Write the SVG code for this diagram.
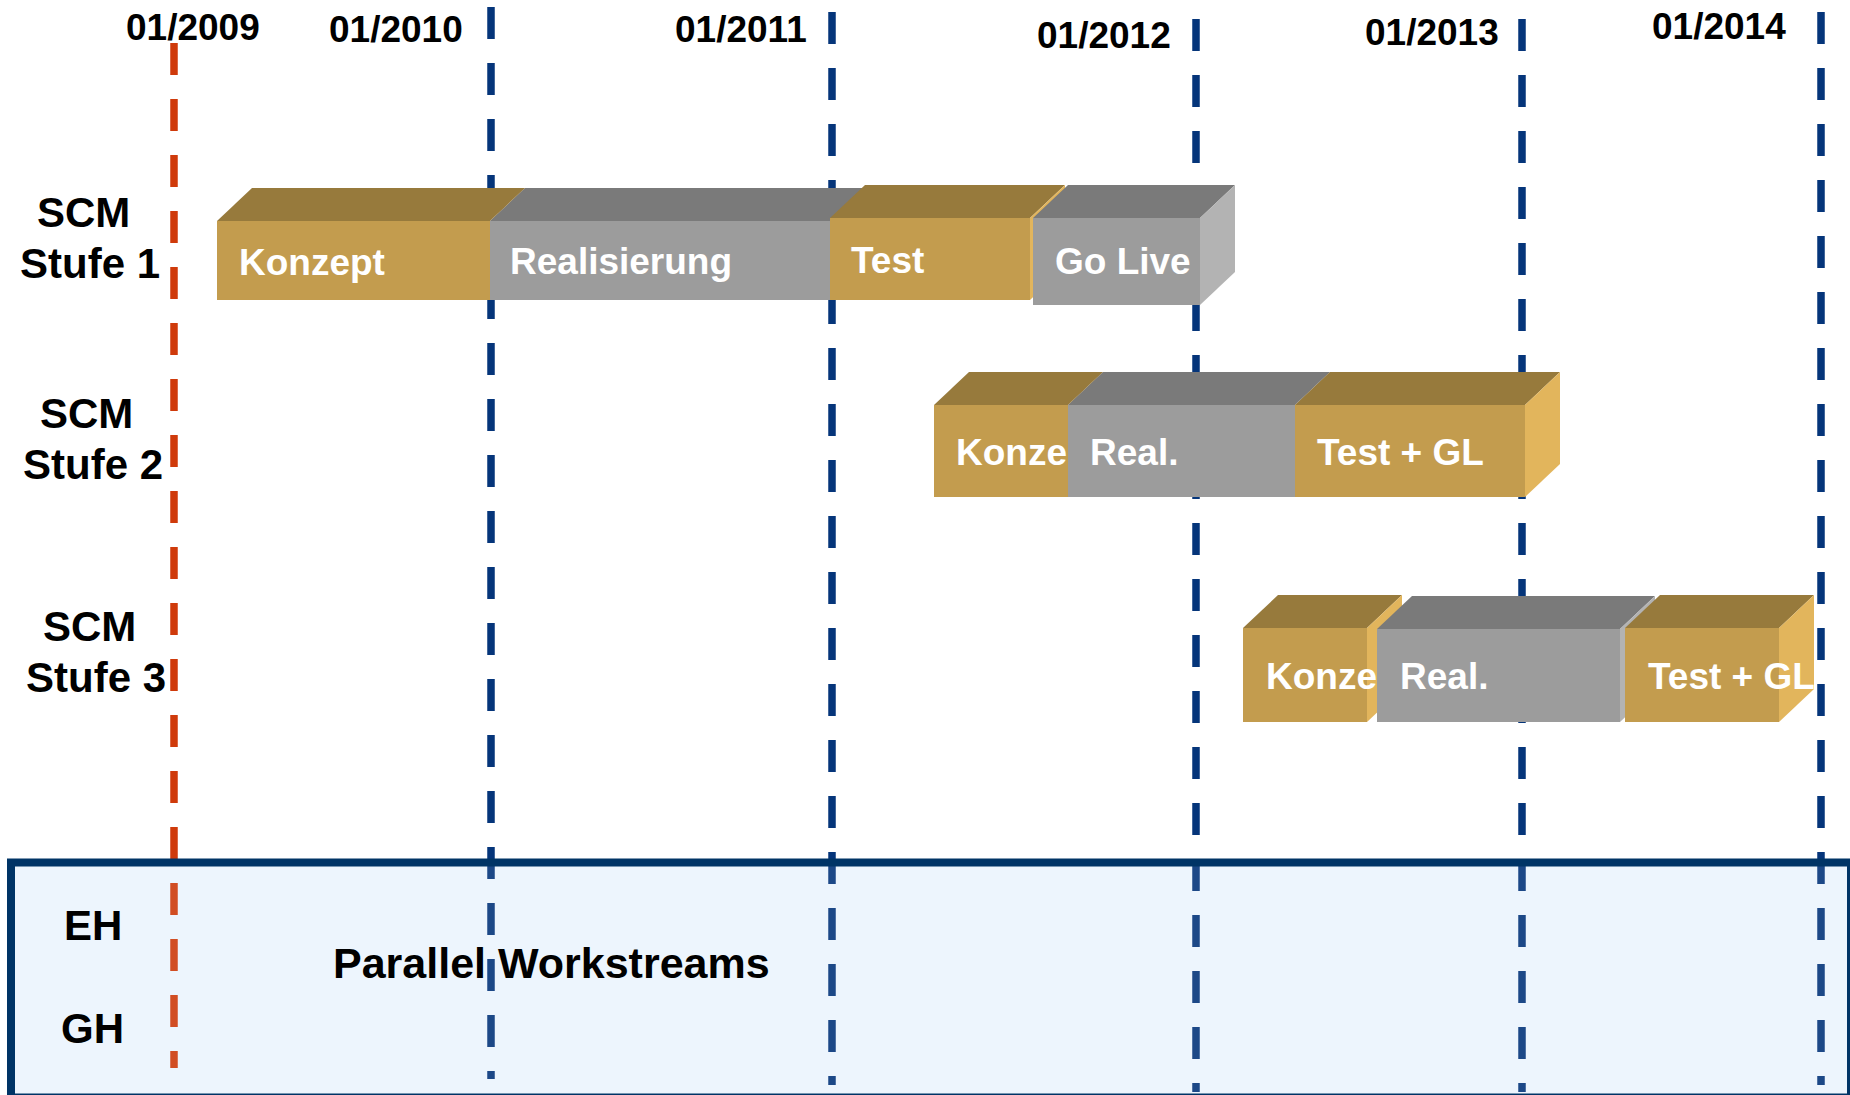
<svg xmlns="http://www.w3.org/2000/svg" width="1850" height="1095" viewBox="0 0 1850 1095">
<style>
.t{font-family:"Liberation Sans",Arial,sans-serif;font-weight:bold}
.date{font-size:37px;fill:#000}
.lbl{font-size:42px;fill:#000}
.bt{font-size:37px;fill:#fff}
.gf{fill:#C39C4E}.gt{fill:#977A3C}.gs{fill:#E2B55C}
.yf{fill:#9C9C9C}.yt{fill:#7A7A7A}.ys{fill:#B3B3B3}
.ln{stroke-width:7.5;stroke-dasharray:32 24;fill:none}
.red{stroke:#CF3A0B}.blue{stroke:#05357A}
</style>
<rect x="0" y="0" width="1850" height="1095" fill="#fff"/>
<rect x="11" y="862.5" width="1840" height="235" fill="#EEF5FD"/>
<g id="gridlines">
<line class="ln red" x1="174" y1="43" x2="174" y2="1068"/>
<line class="ln blue" x1="491" y1="7" x2="491" y2="1079"/>
<line class="ln blue" x1="832" y1="12" x2="832" y2="1085"/>
<line class="ln blue" x1="1196" y1="19" x2="1196" y2="1092"/>
<line class="ln blue" x1="1522" y1="19" x2="1522" y2="1092"/>
<line class="ln blue" x1="1821" y1="12" x2="1821" y2="1085"/>
</g>
<g id="workstreams">
<rect x="11" y="862.5" width="1840" height="235" fill="#EEF5FD" fill-opacity="0.1" stroke="#003466" stroke-width="8"/>
<text class="t lbl" x="64" y="940">EH</text>
<text class="t lbl" x="61" y="1043">GH</text>
<text class="t" x="333" y="978" font-size="43px">Parallel Workstreams</text>
</g>
<g id="dates">
<text class="t date" x="126" y="40">01/2009</text>
<text class="t date" x="329" y="42">01/2010</text>
<text class="t date" x="675" y="42">01/2011</text>
<text class="t date" x="1037" y="48">01/2012</text>
<text class="t date" x="1365" y="45">01/2013</text>
<text class="t date" x="1652" y="39">01/2014</text>
</g>
<g id="row-labels">
<text class="t lbl" x="37" y="227">SCM</text>
<text class="t lbl" x="20" y="278">Stufe 1</text>
<text class="t lbl" x="40" y="428">SCM</text>
<text class="t lbl" x="23" y="479">Stufe 2</text>
<text class="t lbl" x="43" y="641">SCM</text>
<text class="t lbl" x="26" y="692">Stufe 3</text>
</g>
<g id="s1-konzept">
<rect class="gf" x="217" y="221" width="273" height="79"/>
<polygon class="gt" points="217,221 252,188 525,188 490,221"/>
<polygon class="gs" points="490,221 525,188 525,267 490,300"/>
<text class="t bt" x="239" y="275">Konzept</text>
</g>
<g id="s1-realisierung">
<rect class="yf" x="490" y="221" width="340" height="79"/>
<polygon class="yt" points="490,221 525,188 865,188 830,221"/>
<polygon class="ys" points="830,221 865,188 865,267 830,300"/>
<text class="t bt" x="510" y="274">Realisierung</text>
</g>
<g id="s1-test">
<rect class="gf" x="830" y="218" width="200" height="82"/>
<polygon class="gt" points="830,218 865,185 1065,185 1030,218"/>
<polygon class="gs" points="1030,218 1065,185 1065,267 1030,300"/>
<text class="t bt" x="851" y="273">Test</text>
</g>
<g id="s1-golive">
<rect class="yf" x="1033" y="218" width="167" height="87"/>
<polygon class="yt" points="1033,218 1068,185 1235,185 1200,218"/>
<polygon class="ys" points="1200,218 1235,185 1235,272 1200,305"/>
<text class="t bt" x="1055" y="274">Go Live</text>
</g>
<g id="s2-konzept">
<rect class="gf" x="934" y="405" width="134" height="92"/>
<polygon class="gt" points="934,405 969,372 1103,372 1068,405"/>
<polygon class="gs" points="1068,405 1103,372 1103,464 1068,497"/>
<text class="t bt" x="956" y="465">Konze</text>
</g>
<g id="s2-real">
<rect class="yf" x="1068" y="405" width="227" height="92"/>
<polygon class="yt" points="1068,405 1103,372 1330,372 1295,405"/>
<polygon class="ys" points="1295,405 1330,372 1330,464 1295,497"/>
<text class="t bt" x="1090" y="465">Real.</text>
</g>
<g id="s2-testgl">
<rect class="gf" x="1295" y="405" width="230" height="92"/>
<polygon class="gt" points="1295,405 1330,372 1560,372 1525,405"/>
<polygon class="gs" points="1525,405 1560,372 1560,464 1525,497"/>
<text class="t bt" x="1317" y="465">Test + GL</text>
</g>
<g id="s3-konzept">
<rect class="gf" x="1243" y="628" width="124" height="94"/>
<polygon class="gt" points="1243,628 1278,595 1402,595 1367,628"/>
<polygon class="gs" points="1367,628 1402,595 1402,689 1367,722"/>
<text class="t bt" x="1266" y="689">Konze</text>
</g>
<g id="s3-real">
<rect class="yf" x="1377" y="629" width="243" height="93"/>
<polygon class="yt" points="1377,629 1412,596 1655,596 1620,629"/>
<polygon class="ys" points="1620,629 1655,596 1655,689 1620,722"/>
<text class="t bt" x="1400" y="689">Real.</text>
</g>
<g id="s3-testgl">
<rect class="gf" x="1625" y="628" width="154" height="94"/>
<polygon class="gt" points="1625,628 1660,595 1814,595 1779,628"/>
<polygon class="gs" points="1779,628 1814,595 1814,689 1779,722"/>
<text class="t bt" x="1648" y="689">Test + GL</text>
</g>
</svg>
